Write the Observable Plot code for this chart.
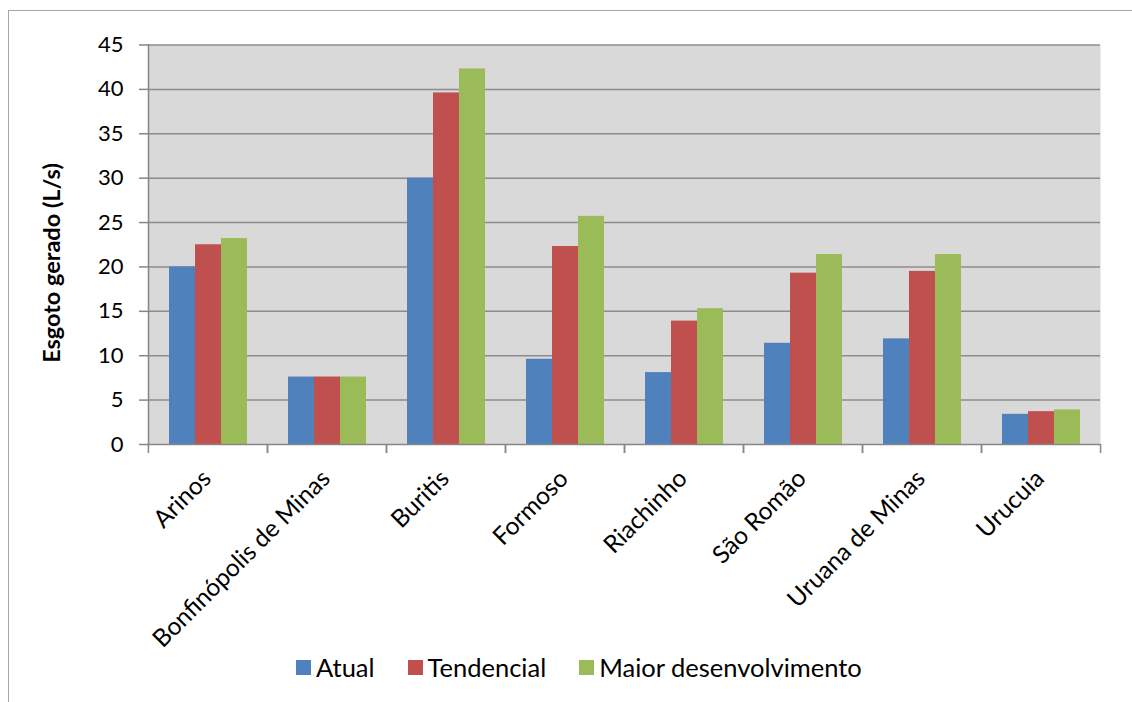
<!DOCTYPE html>
<html>
<head>
<meta charset="utf-8">
<script src="https://cdn.jsdelivr.net/npm/d3@7"></script>
<script src="https://cdn.jsdelivr.net/npm/@observablehq/plot@0.6"></script>
<style>
  html, body { margin: 0; padding: 0; background: #fff; }
  #page { position: relative; width: 1132px; height: 702px; overflow: hidden; font-family: Lato, "Open Sans", sans-serif; }
  #border { position: absolute; left: 8px; top: 10px; width: 1300px; height: 900px; border: 1px solid #a6a6a6; box-sizing: border-box; }
  #chart { position: absolute; left: 0; top: 0; }
  #ytitle { position: absolute; left: 51px; top: 263px; transform: translate(-50%, -50%) rotate(-90deg); white-space: nowrap; font-weight: bold; font-size: 23.5px; color: #000; }
  #legend { position: absolute; left: 296px; top: 652px; display: flex; align-items: center; font-size: 25.5px; color: #000; }
  #legend .item { display: flex; align-items: center; margin-right: 33px; }
  #legend .sw { width: 15px; height: 15px; margin-right: 5px; }
</style>
</head>
<body>
<div id="page">
  <div id="border"></div>
  <div id="chart"></div>
  <div id="ytitle">Esgoto gerado (L/s)</div>
  <div id="legend"></div>
</div>
<script>
const categories = ["Arinos", "Bonfinópolis de Minas", "Buritis", "Formoso", "Riachinho", "São Romão", "Uruana de Minas", "Urucuia"];
const seriesNames = ["Atual", "Tendencial", "Maior desenvolvimento"];
const seriesColors = ["#4f81bd", "#c0504d", "#9bbb59"];
const atual = [20.0, 7.6, 30.0, 9.6, 8.1, 11.4, 11.9, 3.4];
const tendencial = [22.5, 7.6, 39.6, 22.3, 13.9, 19.3, 19.5, 3.7];
const maior = [23.2, 7.6, 42.3, 25.7, 15.3, 21.4, 21.4, 3.9];
const yTicks = [0, 5, 10, 15, 20, 25, 30, 35, 40, 45];

const seriesValues = [atual, tendencial, maior];
const data = [];
categories.forEach((c, i) => {
  seriesNames.forEach((s, j) => data.push({city: c, series: s, value: seriesValues[j][i]}));
});

const W = 1132, H = 702, ML = 147, MR = 32, MT = 44.5, MB = 258;
const step = (W - ML - MR) / categories.length;
const axisColor = "#868686";

const chart = Plot.plot({
  width: W, height: H,
  marginLeft: ML, marginRight: MR, marginTop: MT, marginBottom: MB,
  style: {fontFamily: "Lato, 'Open Sans', sans-serif", color: "#000", background: "transparent"},
  fx: {domain: categories, padding: 0, label: null},
  x: {domain: seriesNames, paddingInner: 0, paddingOuter: 0.75, axis: null},
  y: {domain: [0, 45], label: null},
  color: {domain: seriesNames, range: seriesColors},
  marks: [
    Plot.frame({fill: "#d9d9d9", stroke: null, facet: "super"}),
    Plot.gridY(yTicks.filter(t => t > 0), {stroke: "#8c8c8c", strokeOpacity: 1, strokeWidth: 1.5}),
    Plot.barY(data, {fx: "city", x: "series", y: "value", fill: "series"}),
    Plot.ruleY([0], {stroke: axisColor, strokeWidth: 1.5}),
    Plot.frame({anchor: "left", stroke: axisColor, strokeWidth: 1.5, facet: "super"}),
    Plot.axisY(yTicks, {tickSize: 9, tickPadding: 16, fontSize: 22, stroke: axisColor, strokeWidth: 1.5, fill: "#000", label: null}),
    Plot.axisFx({anchor: "bottom", tickSize: 9, fill: "none", stroke: axisColor, strokeWidth: 1.5, dx: -step / 2, label: null}),
    Plot.axisFx([categories[categories.length - 1]], {anchor: "bottom", tickSize: 9, fill: "none", stroke: axisColor, strokeWidth: 1.5, dx: step / 2, label: null}),
    Plot.axisFx({anchor: "bottom", tickSize: 0, tickPadding: 30, tickRotate: -45, fontSize: 24.5, fill: "#000", dx: -1, label: null})
  ]
});
document.getElementById("chart").appendChild(chart);

const legend = document.getElementById("legend");
seriesNames.forEach((s, i) => {
  const item = document.createElement("div");
  item.className = "item";
  const sw = document.createElement("span");
  sw.className = "sw";
  sw.style.background = seriesColors[i];
  const t = document.createElement("span");
  t.textContent = s;
  item.appendChild(sw); item.appendChild(t);
  legend.appendChild(item);
});
</script>
</body>
</html>
